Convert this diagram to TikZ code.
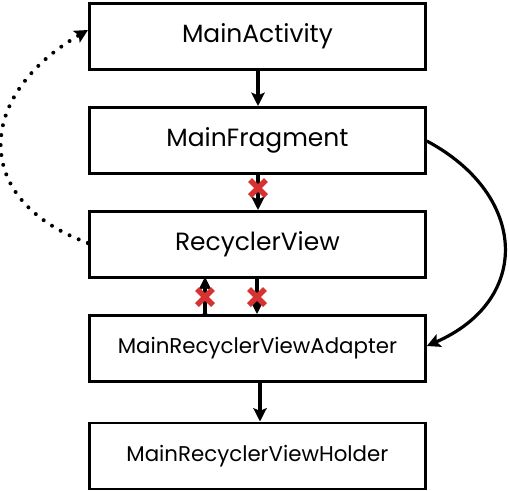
\documentclass[tikz,border=0pt]{standalone}
\usepackage{fontspec}
\setmainfont{Poppins}
\usetikzlibrary{arrows.meta}
\definecolor{xred}{HTML}{D63232}
\begin{document}
\begin{tikzpicture}[x=0.75pt,y=-0.75pt,
  box/.style={draw=black,line width=2.1pt,minimum width=252pt,minimum height=49.5pt,inner sep=0pt,anchor=north west},
  big/.style={font=\fontsize{18.7}{22}\selectfont},
  small/.style={font=\fontsize{16}{19}\selectfont},
  tip/.style={-{Stealth[length=10pt,width=10pt,inset=2pt]}},
  conn/.style={line width=2.4pt,tip},
  xmark/.style={xred,line width=4pt}]
\useasboundingbox (0,0) rectangle (509,490);
\node[box,big] (a) at (88,2) {MainActivity};
\node[box,big] (f) at (88,106) {MainFragment};
\node[box,big] (r) at (88,210) {RecyclerView};
\node[box,small] (ad) at (88,314) {MainRecyclerViewAdapter};
\node[box,small] (h) at (88,421.5) {MainRecyclerViewHolder};
% straight connectors
\draw[conn] (a.south -| 258,0) -- (f.north -| 258,0);
\draw[conn] (f.south -| 258,0) -- (r.north -| 258,0);
\draw[conn] (r.south -| 257,0) -- (ad.north -| 257,0);
\draw[conn] (ad.south -| 260,0) -- (h.north -| 260,0);
\coordinate (ub) at (205,314);
\coordinate (ut) at (205,277);
\draw[conn] (ub) -- (ut);
\fill (ub) circle (1.8pt);
% curves
\draw[conn] (f.east |- 0,141) .. controls (528,195) and (532,300) .. (ad.east |- 0,346);
\draw[line width=3pt,line cap=round,dash pattern=on 0pt off 7.5pt,tip] (r.west |- 0,243) .. controls (-30,200) and (-24,95) .. (a.west |- 0,30);
\fill (r.west |- 0,243) circle (1.6pt);
% red crosses
\foreach \cx/\cy [count=\i] in {258/188, 205/297, 257/297}{
  \coordinate (x\i) at (\cx,\cy);
  \draw[xmark] ([shift={(-8,-8)}]x\i) -- ([shift={(8,8)}]x\i);
  \draw[xmark] ([shift={(-8,8)}]x\i) -- ([shift={(8,-8)}]x\i);
}
\end{tikzpicture}
\end{document}
